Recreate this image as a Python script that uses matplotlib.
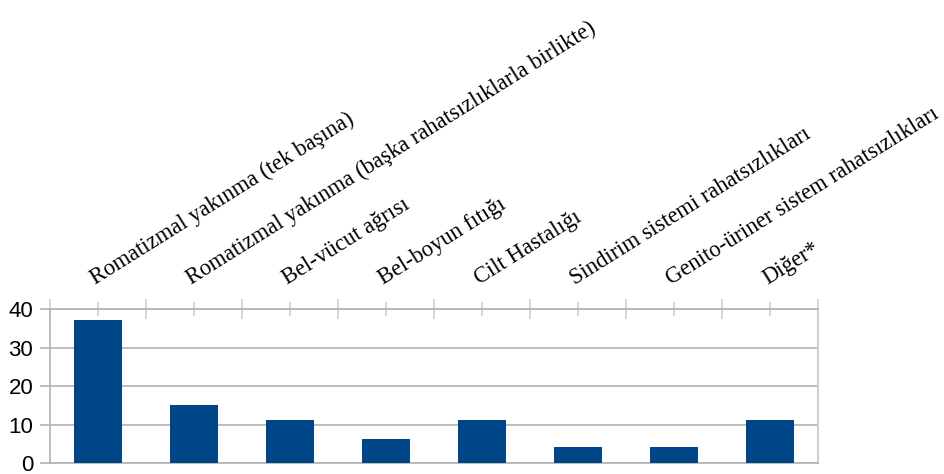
import matplotlib
matplotlib.use("Agg")
import matplotlib.pyplot as plt
import matplotlib.transforms as mtransforms

categories = [
    "Romatizmal yakınma (tek başına)",
    "Romatizmal yakınma (başka rahatsızlıklarla birlikte)",
    "Bel-vücut ağrısı",
    "Bel-boyun fıtığı",
    "Cilt Hastalığı",
    "Sindirim sistemi rahatsızlıkları",
    "Genito-üriner sistem rahatsızlıkları",
    "Diğer*",
]
values = [37.2, 15.1, 11.2, 6.3, 11.2, 4.2, 4.2, 11.2]
yticks = [0, 10, 20, 30, 40]

BAR = "#004586"
GRID = "#b3b3b3"
TICK = "#cfcfcf"

fig = plt.figure(figsize=(9.45, 4.74), dpi=100)
ax = fig.add_axes([50/945, (474-463.3)/474, 768/945, 154/474])

n = len(categories)
centers = [i + 0.5 for i in range(n)]
ax.bar(centers, values, width=0.5, color=BAR, zorder=3)

ax.set_xlim(0, n)
ax.set_ylim(0, 40)
ax.set_yticks(yticks)
ax.set_yticklabels([str(t) for t in yticks], fontfamily="Liberation Sans", fontsize=16)
ax.yaxis.grid(True, color=GRID, linewidth=1.2, zorder=0)
ax.tick_params(axis="y", direction="out", length=7.2, width=1.2, color=GRID, pad=4.8,
               labelcolor="black")

ax.xaxis.tick_top()
ax.set_xticks(range(n + 1))
ax.set_xticks(centers, minor=True)
ax.tick_params(axis="x", which="major", direction="inout", length=14.4, width=1.2,
               color=TICK, labeltop=False, labelbottom=False)
ax.tick_params(axis="x", which="minor", direction="inout", length=10.4, width=1.2,
               color=TICK, labeltop=False, labelbottom=False)

for side in ["left", "bottom", "top"]:
    ax.spines[side].set_color(GRID)
    ax.spines[side].set_linewidth(1.2)
ax.spines["right"].set_color(TICK)
ax.spines["right"].set_linewidth(1.5)

off = mtransforms.ScaledTranslation(-0.025, 0.243, fig.dpi_scale_trans)
for c, lab in zip(centers, categories):
    ax.text(c, 1.0, lab, transform=ax.get_xaxis_transform() + off,
            ha="left", va="baseline", rotation=32, rotation_mode="anchor",
            fontfamily="Liberation Serif", fontsize=16.3, color="black")

fig.savefig("out.png", dpi=100)
